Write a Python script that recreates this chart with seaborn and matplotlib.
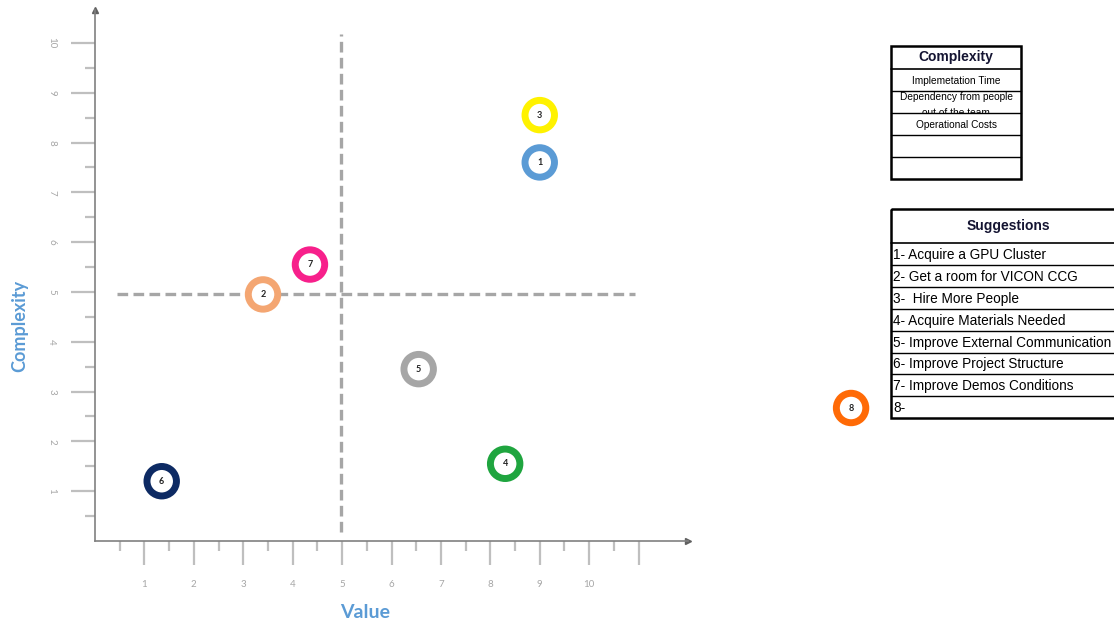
import pandas as pd
import matplotlib
matplotlib.use("Agg")
import matplotlib.pyplot as plt
import seaborn as sns
from matplotlib.patches import Rectangle

# === DATA ===
ids = [1, 2, 3, 4, 5, 6, 7, 8]
value = [9.0, 3.4, 9.0, 8.3, 6.55, 1.35, 4.35, 15.3]
complexity = [7.6, 4.95, 8.55, 1.55, 3.45, 1.2, 5.55, 2.67]
ring_colors = ["#5B9BD5", "#F4A672", "#FFF200", "#1FA53F", "#A6A6A6",
               "#0D2A63", "#F7208B", "#FF6A06"]

x_ticks = [1, 2, 3, 4, 5, 6, 7, 8, 9, 10, 11]
x_tick_labels = ["1", "2", "3", "4", "5", "6", "7", "8", "9", "10", ""]
y_ticks = [1, 2, 3, 4, 5, 6, 7, 8, 9, 10]
x_minor = [0.5 + i for i in range(11)]
y_minor = [0.5 + i for i in range(10)]

complexity_header = "Complexity"
complexity_rows = ["Implemetation Time", "Dependency from people\nout of the team",
                   "Operational Costs", "", ""]
suggestions_header = "Suggestions"
suggestions_rows = ["1- Acquire a GPU Cluster", "2- Get a room for VICON CCG",
                    "3-  Hire More People", "4- Acquire Materials Needed",
                    "5- Improve External Communication", "6- Improve Project Structure",
                    "7- Improve Demos Conditions", "8-"]

df = pd.DataFrame({"id": ids, "value": value, "complexity": complexity})

# === STYLE ===
sns.set_theme(style="white")
plt.rcParams["font.family"] = ["Lato", "DejaVu Sans"]

fig = plt.figure(figsize=(11.14, 6.26), dpi=100)
W, H = 1114, 626

# main quadrant axes (pixel box 95..688 x, 10..541 y)
ax = fig.add_axes([95 / W, (H - 541) / H, 593 / W, 531 / H])
ax.set_xlim(0, 12)
ax.set_ylim(0, 10.66)
ax.set_facecolor("white")

for side in ["top", "right"]:
    ax.spines[side].set_visible(False)
for side in ["left", "bottom"]:
    ax.spines[side].set_color("#808080")
    ax.spines[side].set_linewidth(1.2)
# arrow heads
ax.plot([1], [0], marker=">", color="#606060", markersize=4, transform=ax.transAxes, clip_on=False)
ax.plot([0], [1], marker="^", color="#606060", markersize=4, transform=ax.transAxes, clip_on=False)

tick_gray = "#BFBFBF"
ax.set_xticks(x_ticks)
ax.set_xticklabels(x_tick_labels)
ax.set_xticks(x_minor, minor=True)
ax.set_yticks(y_ticks)
ax.set_yticklabels([str(t) for t in y_ticks], rotation=-90, va="center")
ax.set_yticks(y_minor, minor=True)
ax.tick_params(axis="both", which="major", direction="out", length=17, width=1.6,
               color=tick_gray, labelcolor="#A6A6A6", labelsize=7, pad=11,
               bottom=True, left=True)
ax.tick_params(axis="both", which="minor", direction="out", length=7, width=1.6,
               color=tick_gray, bottom=True, left=True)

# quadrant dividers
ax.plot([4.97, 4.97], [0.18, 10.17], ls=(0, (3.2, 1.6)), color="#A6A6A6", lw=2.4, zorder=1)
ax.plot([0.45, 10.93], [4.95, 4.95], ls=(0, (3.2, 1.6)), color="#A6A6A6", lw=2.4, zorder=1)

# suggestion rings
sns.scatterplot(data=df, x="value", y="complexity", hue="id", palette=ring_colors,
                s=450, marker="o", linewidth=5, legend=False,
                ax=ax, zorder=3, clip_on=False)
coll = ax.collections[-1]
coll.set_facecolor("white")
coll.set_edgecolor([ring_colors[i - 1] for i in df["id"]])
coll.set_clip_on(False)
for _, r in df.iterrows():
    ax.text(r["value"], r["complexity"], str(int(r["id"])), ha="center", va="center",
            fontsize=6.5, color="#222222", fontweight="bold", zorder=4, clip_on=False)

ax.set_xlabel("Value", fontsize=14, fontweight="bold", color="#5B9BD5")
ax.set_ylabel("Complexity", fontsize=13, fontweight="bold", color="#5B9BD5")
ax.xaxis.set_label_coords(0.455, -0.118)
ax.yaxis.set_label_coords(-0.112, 0.405)

# === TABLES (pixel overlay) ===
ov = fig.add_axes([0, 0, 1, 1], zorder=5)
ov.set_xlim(0, W)
ov.set_ylim(H, 0)
ov.axis("off")
ov.patch.set_alpha(0)

tfont = ["Liberation Sans Narrow", "Liberation Sans", "DejaVu Sans"]


def draw_table(x0, x1, y0, header_h, row_h, header, rows, fsize, hsize, align):
    n = len(rows)
    y_end = y0 + header_h + n * row_h
    ov.add_patch(Rectangle((x0, y0), x1 - x0, y_end - y0, fill=False, ec="black", lw=1.8, clip_on=False))
    ov.plot([x0, x1], [y0 + header_h] * 2, color="black", lw=1.2)
    ov.text((x0 + x1) / 2, y0 + header_h / 2, header, ha="center", va="center",
            fontsize=hsize, fontweight="bold", color="#141432",
            family=["Liberation Sans", "DejaVu Sans"])
    for i, txt in enumerate(rows):
        ry = y0 + header_h + i * row_h
        if i > 0:
            ov.plot([x0, x1], [ry, ry], color="black", lw=1.0)
        cell = Rectangle((x0, ry), x1 - x0, row_h, transform=ov.transData)
        if align == "left":
            t = ov.text(x0 + 2, ry + row_h / 2 + 1, txt, ha="left", va="center",
                        fontsize=fsize, color="black", family=tfont)
        else:
            t = ov.text((x0 + x1) / 2, ry + row_h / 2 + (3 if "\n" in txt else 1), txt,
                        ha="center", va="center", fontsize=fsize, color="black",
                        family=tfont, linespacing=1.75)
        t.set_clip_path(cell)
        t.set_clip_on(True)


draw_table(891, 1021, 46, 23, 22, complexity_header, complexity_rows, 7.3, 10, "center")
draw_table(891, 1125, 209, 34, 21.9, suggestions_header, suggestions_rows, 9.8, 10, "left")

fig.savefig("out.png", dpi=100, facecolor="white")
